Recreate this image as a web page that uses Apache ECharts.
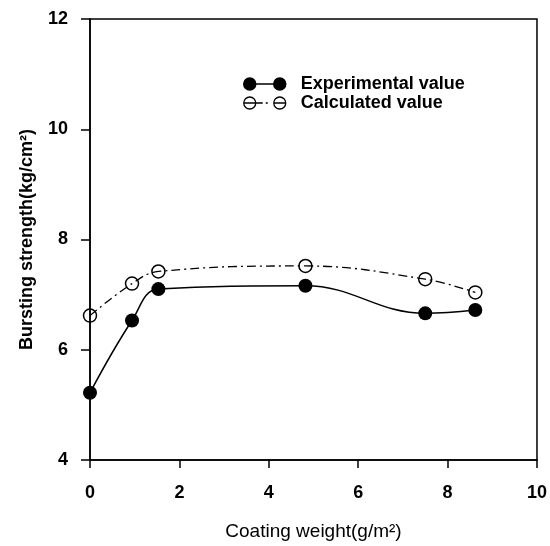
<!DOCTYPE html>
<html>
<head>
<meta charset="utf-8">
<script src="https://cdn.jsdelivr.net/npm/echarts@6/dist/echarts.min.js"></script>
<style>
  html, body { margin: 0; padding: 0; background: #fff; }
  #chart { width: 550px; height: 546px; }
</style>
</head>
<body>
<div id="chart"></div>
<script>
// coating weight (g/m2)
var coatingWeight = [0, 0.94, 1.53, 4.82, 7.5, 8.62];
// bursting strength (kg/cm2)
var experimental = [5.22, 6.53, 7.1, 7.16, 6.66, 6.72];
var calculated = [6.62, 7.2, 7.42, 7.52, 7.28, 7.04];
var xTicks = [0, 2, 4, 6, 8, 10];
var yTicks = [4, 6, 8, 10, 12];
var seriesNames = ['Experimental value', 'Calculated value'];

function pairs(xs, ys) {
  var out = [];
  for (var i = 0; i < xs.length; i++) out.push([xs[i], ys[i]]);
  return out;
}

var font = 'Liberation Sans, Arial, sans-serif';
var filledIcon = 'path://M0,6a6,6 0 1,0 12,0a6,6 0 1,0 -12,0Z M30,6a6,6 0 1,0 12,0a6,6 0 1,0 -12,0Z M12,6L30,6';
var openIcon = 'path://M0,6a6,6 0 1,0 12,0a6,6 0 1,0 -12,0Z M0,6L12,6 M30,6a6,6 0 1,0 12,0a6,6 0 1,0 -12,0Z M30,6L42,6 M12,6L19,6 M22,6L24,6';

var chart = echarts.init(document.getElementById('chart'));
chart.setOption({
  backgroundColor: '#fff',
  animation: false,
  textStyle: { fontFamily: font, color: '#000' },
  grid: {
    left: 90, right: 12, top: 19, bottom: 80,
    show: true, borderColor: '#000', borderWidth: 1.5
  },
  legend: {
    orient: 'vertical',
    left: 238, top: 70,
    itemWidth: 42, itemHeight: 12,
    itemGap: 1,
    textStyle: { fontSize: 18, fontWeight: 'bold', color: '#000', fontFamily: font, padding: [0, 0, 0, 10] },
    data: [
      { name: seriesNames[0], icon: filledIcon,
        itemStyle: { color: '#000', borderColor: '#000', borderWidth: 1.5 } },
      { name: seriesNames[1], icon: openIcon,
        itemStyle: { color: 'rgba(0,0,0,0)', borderColor: '#000', borderWidth: 1.3 } }
    ]
  },
  xAxis: {
    type: 'value', min: xTicks[0], max: xTicks[xTicks.length - 1], interval: 2,
    name: 'Coating weight(g/m²)', nameLocation: 'middle', nameGap: 62,
    nameTextStyle: { fontSize: 19, color: '#000', fontFamily: font },
    axisLine: { show: true, onZero: false, lineStyle: { color: '#000', width: 1.5 } },
    axisTick: { show: true, inside: false, length: 8, lineStyle: { color: '#000', width: 1.5 } },
    axisLabel: { fontSize: 18, fontWeight: 'bold', color: '#000', margin: 24 },
    splitLine: { show: false }
  },
  yAxis: {
    type: 'value', min: yTicks[0], max: yTicks[yTicks.length - 1], interval: 2,
    name: 'Bursting strength(kg/cm²)', nameLocation: 'middle', nameGap: 54,
    nameTextStyle: { fontSize: 18, fontWeight: 'bold', color: '#000', fontFamily: font },
    axisLine: { show: true, onZero: false, lineStyle: { color: '#000', width: 1.5 } },
    axisTick: { show: true, inside: false, length: 9, lineStyle: { color: '#000', width: 1.5 } },
    axisLabel: { fontSize: 18, fontWeight: 'bold', color: '#000', margin: 22 },
    splitLine: { show: false }
  },
  series: [
    {
      name: seriesNames[0],
      type: 'line',
      smooth: 0.4,
      symbol: 'circle',
      symbolSize: 14,
      itemStyle: { color: '#000' },
      lineStyle: { color: '#000', width: 1.5 },
      data: pairs(coatingWeight, experimental)
    },
    {
      name: seriesNames[1],
      type: 'line',
      smooth: 0.4,
      symbol: 'circle',
      symbolSize: 13,
      itemStyle: { color: 'rgba(0,0,0,0)', borderColor: '#000', borderWidth: 1.5 },
      lineStyle: { color: '#000', width: 1.3, type: [9, 4, 2, 4] },
      data: pairs(coatingWeight, calculated)
    }
  ]
});
</script>
</body>
</html>
